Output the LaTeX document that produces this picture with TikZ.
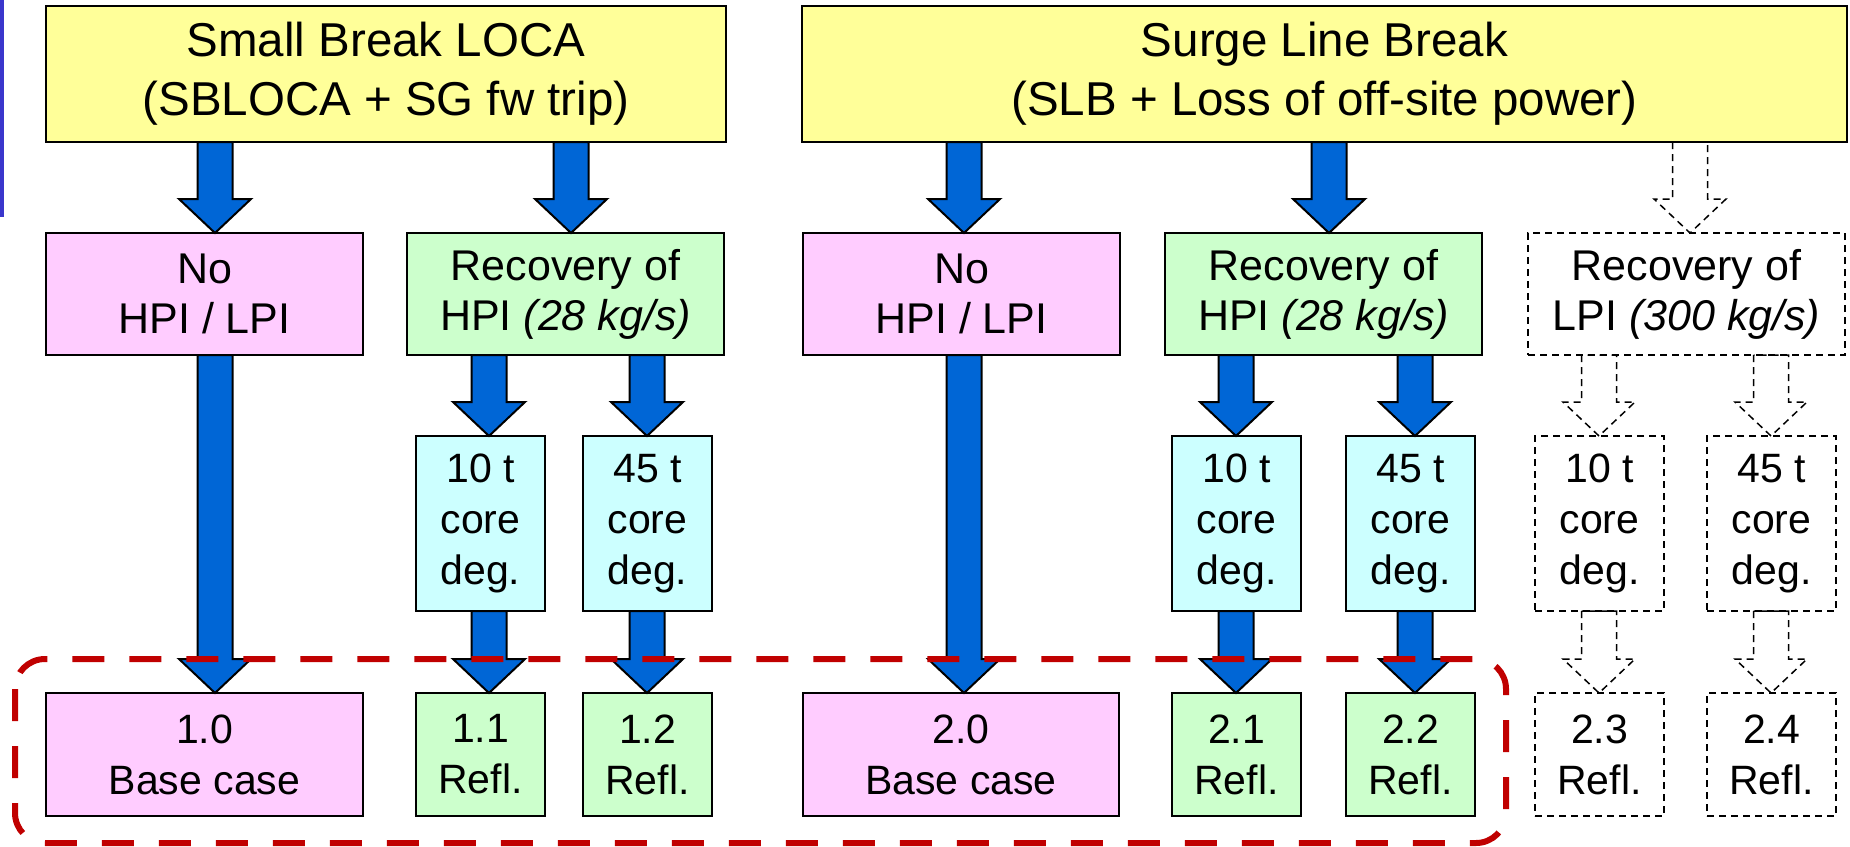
\documentclass[tikz,border=0pt]{standalone}
\usepackage{fontspec}
\setmainfont{Liberation Sans}
\usetikzlibrary{calc}
\definecolor{cYel}{RGB}{255,255,153}
\definecolor{cPink}{RGB}{255,204,255}
\definecolor{cGreen}{RGB}{204,255,204}
\definecolor{cCyan}{RGB}{204,255,255}
\definecolor{cArrow}{RGB}{0,102,214}
\definecolor{cBar}{RGB}{58,54,204}
\definecolor{cRed}{RGB}{192,0,0}
\tikzset{
  box/.style={draw=black, line width=1pt, inner sep=0pt, outer sep=0pt, anchor=north west, align=center},
  yelbox/.style={box, fill=cYel, minimum height=68pt, font=\fontsize{23.75}{29.5}\selectfont},
  midbox/.style={box, minimum width=158.5pt, minimum height=61pt, font=\fontsize{21.5}{25}\selectfont},
  smbox/.style={box, minimum width=64.5pt, minimum height=87.5pt, font=\fontsize{20.5}{25.5}\selectfont},
  botbox/.style={box, minimum height=61.5pt, font=\fontsize{20.5}{25.5}\selectfont},
  dashbox/.style={line width=0.75pt, dash pattern=on 3.5pt off 2.5pt, fill=white},
  blockarrow/.style={draw=black, line width=1pt, fill=cArrow, line join=miter},
  dasharrow/.style={draw=black, line width=0.75pt, dash pattern=on 3.5pt off 2.5pt, fill=none},
  groupframe/.style={draw=cRed, line width=3pt, dash pattern=on 16pt off 12.5pt, rounded corners=15pt}
}
% block arrow from node anchor #2 to node anchor #3 at picture x #4
\newcommand\blkarrow[4][blockarrow]{%
  \draw[#1] let \p1=(#2 -| #4,0), \p2=(#3 -| #4,0) in
    (\x1-8.75pt,\y1) -- (\x1-8.75pt,\y2+17pt) -- (\x1-18pt,\y2+17pt) -- (\x1,\y2)
    -- (\x1+18pt,\y2+17pt) -- (\x1+8.75pt,\y2+17pt) -- (\x1+8.75pt,\y1) -- cycle;}
\begin{document}
\begin{tikzpicture}[x=0.5pt, y=-0.5pt]
\useasboundingbox (0,0) rectangle (1850,846);
\fill[cBar] (0,0) rectangle (4,217);

% top row
\node[yelbox, minimum width=340pt] (y1) at (46,6) {Small Break LOCA\\(SBLOCA + SG fw trip)};
\node[yelbox, minimum width=522.5pt] (y2) at (802,6) {Surge Line Break\\(SLB + Loss of off-site power)};

% second row
\node[midbox, fill=cPink] (a1) at (46,233) {No\\HPI / LPI};
\node[midbox, fill=cGreen] (b1) at (407,233) {Recovery of\\HPI \textit{(28 kg/s)}};
\node[midbox, fill=cPink] (c1) at (803,233) {No\\HPI / LPI};
\node[midbox, fill=cGreen] (d1) at (1165,233) {Recovery of\\HPI \textit{(28 kg/s)}};
\node[midbox, dashbox] (e1) at (1528,233) {Recovery of\\LPI \textit{(300 kg/s)}};

% third row
\node[smbox, fill=cCyan] (b2) at (416,436) {10 t\\core\\deg.};
\node[smbox, fill=cCyan] (b3) at (583,436) {45 t\\core\\deg.};
\node[smbox, fill=cCyan] (d2) at (1172,436) {10 t\\core\\deg.};
\node[smbox, fill=cCyan] (d3) at (1346,436) {45 t\\core\\deg.};
\node[smbox, dashbox] (e2) at (1535,436) {10 t\\core\\deg.};
\node[smbox, dashbox] (e3) at (1707,436) {45 t\\core\\deg.};

% bottom row
\node[botbox, fill=cPink, minimum width=158.5pt] (a4) at (46,693) {1.0\\Base case};
\node[botbox, fill=cGreen, minimum width=64.5pt] (b4) at (416,693) {1.1\\Refl.};
\node[botbox, fill=cGreen, minimum width=64.5pt] (b5) at (583,693) {1.2\\Refl.};
\node[botbox, fill=cPink, minimum width=158pt] (c4) at (803,693) {2.0\\Base case};
\node[botbox, fill=cGreen, minimum width=64.5pt] (d4) at (1172,693) {2.1\\Refl.};
\node[botbox, fill=cGreen, minimum width=64.5pt] (d5) at (1346,693) {2.2\\Refl.};
\node[botbox, dashbox, minimum width=64.5pt] (e4) at (1535,693) {2.3\\Refl.};
\node[botbox, dashbox, minimum width=64.5pt] (e5) at (1707,693) {2.4\\Refl.};

% arrows
\blkarrow{y1.south}{a1.north}{215}
\blkarrow{y1.south}{b1.north}{571}
\blkarrow{a1.south}{a4.north}{215}
\blkarrow{b1.south}{b2.north}{489}
\blkarrow{b1.south}{b3.north}{647}
\blkarrow{b2.south}{b4.north}{489}
\blkarrow{b3.south}{b5.north}{647}
\blkarrow{y2.south}{c1.north}{964}
\blkarrow{y2.south}{d1.north}{1329}
\blkarrow{c1.south}{c4.north}{964}
\blkarrow{d1.south}{d2.north}{1236}
\blkarrow{d1.south}{d3.north}{1415}
\blkarrow{d2.south}{d4.north}{1236}
\blkarrow{d3.south}{d5.north}{1415}
\blkarrow[dasharrow]{y2.south}{e1.north}{1690}
\blkarrow[dasharrow]{e1.south}{e2.north}{1599}
\blkarrow[dasharrow]{e1.south}{e3.north}{1771}
\blkarrow[dasharrow]{e2.south}{e4.north}{1599}
\blkarrow[dasharrow]{e3.south}{e5.north}{1771}

% group frame
\draw[groupframe] (15,659) rectangle (1506,843);
\end{tikzpicture}
\end{document}
